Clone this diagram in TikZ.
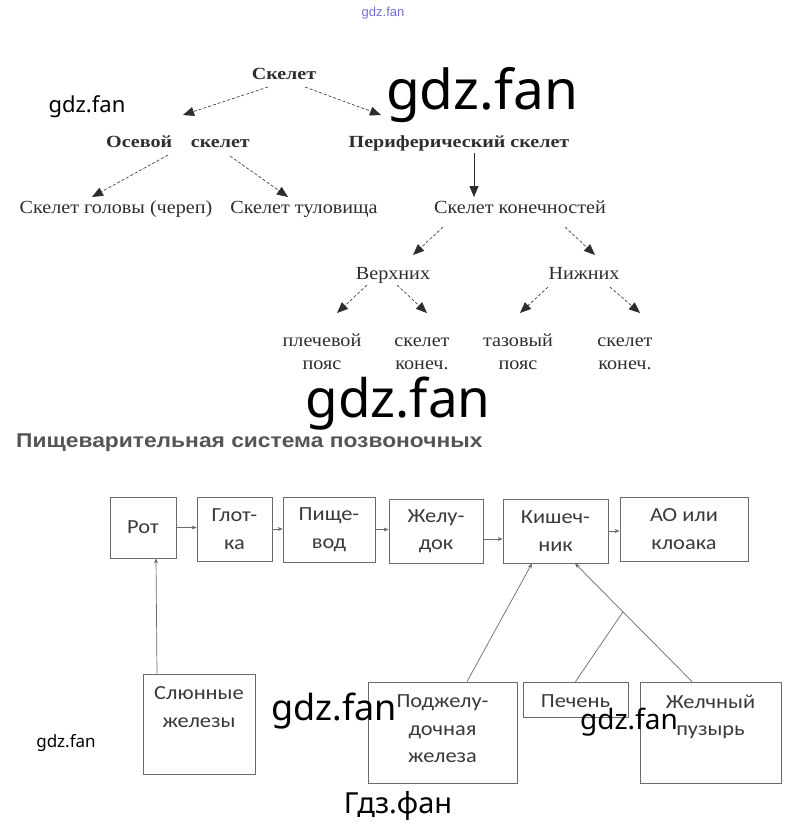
\documentclass[tikz,border=0pt]{standalone}
\usepackage{fontspec}
\setmainfont{Liberation Serif}
\newfontfamily\trfont[FakeStretch=1.09]{Liberation Serif}
\newfontfamily\tbfont[FakeStretch=1.18]{Liberation Serif}
\newfontfamily\calfont[FakeStretch=1.12]{Carlito}
\newfontfamily\wmfont{Noto Sans}
\newfontfamily\arfont{Liberation Sans}
\newfontfamily\ttlfont[FakeStretch=1.14]{Liberation Sans}
\usetikzlibrary{arrows.meta,calc}
\definecolor{ink}{HTML}{2E2E2E}
\definecolor{boxc}{HTML}{6A6A6A}
\definecolor{btc}{HTML}{3A3A3A}
\definecolor{ttl}{HTML}{555555}
\definecolor{wmblue}{HTML}{6E6ED8}
\begin{document}
\begin{tikzpicture}[x=1pt,y=-1pt,
  tt/.style={inner sep=0pt, font=\trfont\fontsize{18.5}{23}\selectfont, text=ink, align=center},
  tb/.style={inner sep=0pt, font=\tbfont\fontsize{17}{20}\selectfont\bfseries, text=ink},
  tarr/.style={draw=ink, line width=0.6pt, densely dashed, -{Triangle[length=11pt,width=9pt]}},
  sarr/.style={draw=ink, line width=0.8pt, -{Triangle[length=11pt,width=9pt]}},
  box/.style={draw=boxc, line width=0.8pt, inner sep=0pt},
  btxt/.style={font=\calfont\fontsize{20}{27.5}\selectfont, text=btc, align=center, inner sep=0pt},
  barr/.style={draw=boxc, line width=0.7pt, -{Stealth[length=5pt,width=4pt]}},
  bline/.style={draw=boxc, line width=0.7pt},
  wm/.style={inner sep=0pt, anchor=base, text=black},
]
\useasboundingbox[fill=white] (0,0) rectangle (793,824);

% ---------- skeleton tree ----------
\node[tb] (sk) at (284,76) {\strut Скелет};
\node[tb] (os) at (178,143) {\strut Осевой\hspace{1.1em}скелет};
\node[tb] (pe) at (459,143) {\strut Периферический скелет};
\node[tt] (go) at (116,209) {\strut Скелет головы (череп)};
\node[tt] (tu) at (304,209) {\strut Скелет туловища};
\node[tt] (ko) at (520,209) {\strut Скелет конечностей};
\node[tt] (ve) at (393,275) {\strut Верхних};
\node[tt] (ni) at (584,275) {\strut Нижних};
\node[tt] (l1) at (322,353) {\strut плечевой\\\strut пояс};
\node[tt] (l2) at (422,353) {\strut скелет\\\strut конеч.};
\node[tt] (l3) at (518,353) {\strut тазовый\\\strut пояс};
\node[tt] (l4) at (625,353) {\strut скелет\\\strut конеч.};

\draw[tarr] ([shift={(-16,11)}]sk.center) -- ([shift={(5,-28)}]os.center);
\draw[tarr] ([shift={(21,11)}]sk.center) -- ([shift={(-78,-28)}]pe.center);
\draw[tarr] ([shift={(-10,12)}]os.center) -- ([shift={(-24,-12)}]go.center);
\draw[tarr] ([shift={(52,13)}]os.center) -- ([shift={(-16,-12)}]tu.center);
\draw[sarr] ([shift={(15,10)}]pe.center) -- ([shift={(-46,-12)}]ko.center);
\draw[tarr] ([shift={(-77,18)}]ko.center) -- ([shift={(20,-20)}]ve.center);
\draw[tarr] ([shift={(45,18)}]ko.center) -- ([shift={(11,-20)}]ni.center);
\draw[tarr] ([shift={(-26,10)}]ve.center) -- ([shift={(15,-40)}]l1.center);
\draw[tarr] ([shift={(4,10)}]ve.center) -- ([shift={(5,-40)}]l2.center);
\draw[tarr] ([shift={(-36,12)}]ni.center) -- ([shift={(2,-40)}]l3.center);
\draw[tarr] ([shift={(26,12)}]ni.center) -- ([shift={(15,-40)}]l4.center);

% ---------- title ----------
\node[inner sep=0pt, anchor=base west, font=\ttlfont\fontsize{20}{22}\selectfont\bfseries, text=ttl] (title) at (16,447) {Пищеварительная система позвоночных};

% ---------- digestive boxes ----------
\node[box, btxt, minimum width=66pt, minimum height=61pt] (ro) at (143,527.5) {Рот};
\node[box, btxt, minimum width=75pt, minimum height=64pt] (gl) at (234.5,529) {Глот-\\ка};
\node[box, btxt, minimum width=92pt, minimum height=65pt] (pi) at (329,529.5) {Пище-\\вод};
\node[box, btxt, minimum width=94pt, minimum height=64pt] (zh) at (436,531) {Желу-\\док};
\node[box, btxt, minimum width=105pt, minimum height=64pt] (ki) at (555.5,531) {Кишеч-\\ник};
\node[box, btxt, minimum width=128pt, minimum height=64pt] (ao) at (684,529) {АО или\\клоака};

\node[box, minimum width=112pt, minimum height=100pt] (sl) at (199,724) {};
\node[box, minimum width=149pt, minimum height=101pt] (pj) at (442.5,732.5) {};
\node[box, minimum width=105pt, minimum height=35pt] (pc) at (575.5,699.5) {};
\node[box, minimum width=141pt, minimum height=101pt] (zp) at (710.5,732.5) {};
\node[btxt, anchor=north] (slt) at ([shift={(0,13)}]sl.north) {Слюнные\\железы};
\node[btxt, anchor=north] (pjt) at ([shift={(0,13)}]pj.north) {Поджелу-\\дочная\\железа};
\node[btxt] (pct) at ([shift={(0,1.5)}]pc.center) {Печень};
\node[btxt, anchor=north] (zpt) at ([shift={(0,13)}]zp.north) {Желчный\\пузырь};

\draw[barr] (ro.east) -- (ro.east -| gl.west);
\draw[barr] (gl.east) -- (gl.east -| pi.west);
\draw[barr] (pi.east) -- (pi.east -| zh.west);
\draw[barr] ([shift={(0,8)}]zh.east) -- ([shift={(0,8)}]zh.east -| ki.west);
\draw[barr] (ki.east) -- (ki.east -| ao.west);
\draw[barr] ([shift={(-42,0)}]sl.north) -- ([shift={(13,0)}]ro.south);
\draw[barr] ([shift={(24.5,0)}]pj.north) -- ([shift={(-23.5,0)}]ki.south);
\coordinate (zptop) at ([shift={(-18.5,0)}]zp.north);
\coordinate (kibot) at ([shift={(19.5,0)}]ki.south);
\draw[barr] (zptop) -- (kibot);
\coordinate (jn) at ($(zptop)!0.59!(kibot)$);
\draw[bline] (pc.north) -- (jn);

% ---------- watermarks ----------
\node[wm, font=\arfont\fontsize{13}{14}\selectfont, text=wmblue] (w0) at (383,17) {gdz.fan};
\node[wm, font=\wmfont\fontsize{55}{60}\selectfont] (w1) at (482,110) {gdz.fan};
\node[wm, font=\wmfont\fontsize{22}{24}\selectfont] (w2) at (87,113) {gdz.fan};
\node[wm, font=\wmfont\fontsize{53}{60}\selectfont] (w3) at (398,417) {gdz.fan};
\node[wm, font=\wmfont\fontsize{36}{40}\selectfont] (w4) at (334,720) {gdz.fan};
\node[wm, font=\wmfont\fontsize{28}{30}\selectfont] (w5) at (629,729) {gdz.fan};
\node[wm, font=\wmfont\fontsize{17}{18}\selectfont] (w6) at (66,747) {gdz.fan};
\node[wm, font=\wmfont\fontsize{29}{30}\selectfont] (w7) at (398,813) {Гдз.фан};
\end{tikzpicture}
\end{document}
